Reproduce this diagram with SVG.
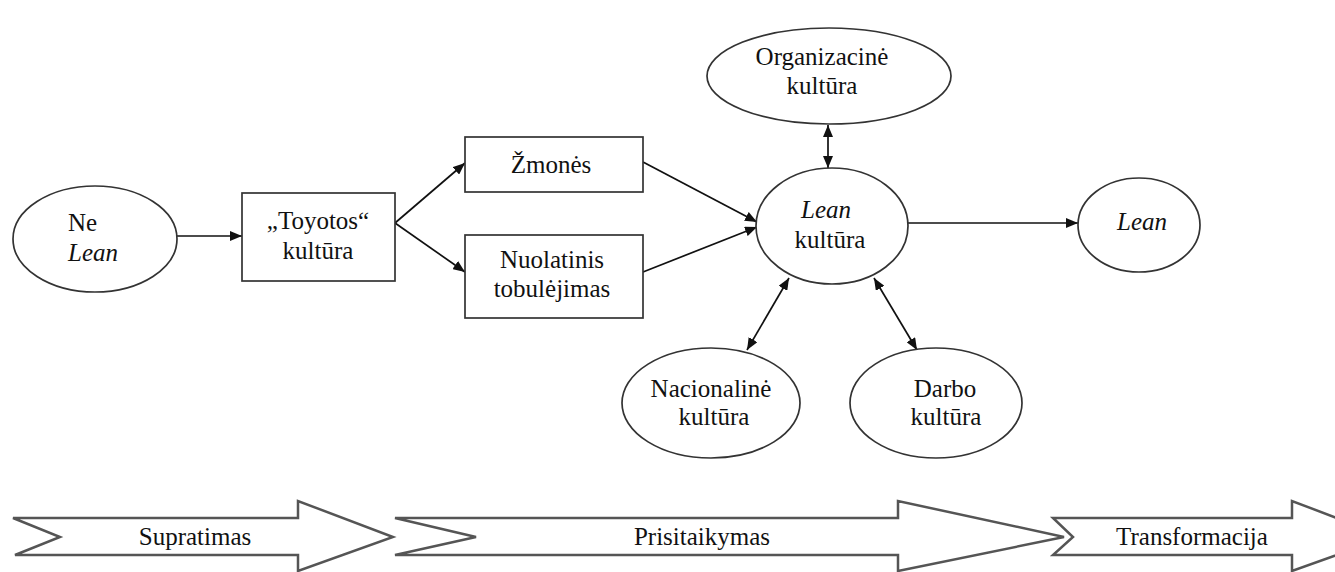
<svg xmlns="http://www.w3.org/2000/svg" width="1335" height="572" viewBox="0 0 1335 572" font-family="'Liberation Serif', 'DejaVu Serif', 'Times New Roman', serif">
  <style>
    .shape { fill: #fff; stroke: #333; stroke-width: 1.7; }
    .band { fill: #fff; stroke: #555; stroke-width: 2.5; stroke-linejoin: miter; }
    .link { fill: none; stroke: #111; stroke-width: 1.7; }
    text { font-family: 'Liberation Serif', 'DejaVu Serif', 'Times New Roman', serif; font-size: 25px; fill: #111; }
    .c { text-anchor: middle; }
    .i { font-style: italic; }
  </style>
  <defs>
    <marker id="head" viewBox="0 0 12 10" refX="12" refY="5" markerWidth="12" markerHeight="10" markerUnits="userSpaceOnUse" orient="auto-start-reverse">
      <path d="M0,0 L12,5 L0,10 Z" fill="#111"/>
    </marker>
  </defs>

  <rect width="1335" height="572" fill="#fff"/>

  <!-- connectors -->
  <g id="connectors">
    <line class="link" x1="177" y1="236" x2="242" y2="236" marker-end="url(#head)"/>
    <line class="link" x1="395" y1="223" x2="465" y2="163" marker-end="url(#head)"/>
    <line class="link" x1="395" y1="223" x2="465" y2="272" marker-end="url(#head)"/>
    <line class="link" x1="643" y1="162" x2="757" y2="222" marker-end="url(#head)"/>
    <line class="link" x1="643" y1="272" x2="757" y2="227" marker-end="url(#head)"/>
    <line class="link" x1="908" y1="223" x2="1078" y2="223" marker-end="url(#head)"/>
    <line class="link" x1="828" y1="125" x2="828" y2="168" marker-start="url(#head)" marker-end="url(#head)"/>
    <line class="link" x1="789" y1="278" x2="747" y2="350" marker-start="url(#head)" marker-end="url(#head)"/>
    <line class="link" x1="874" y1="278" x2="917" y2="350" marker-start="url(#head)" marker-end="url(#head)"/>
  </g>

  <!-- nodes -->
  <g id="ne-lean">
    <ellipse class="shape" cx="95" cy="239" rx="82" ry="53"/>
    <text x="68" y="231">Ne</text>
    <text x="68" y="261" class="i">Lean</text>
  </g>

  <g id="toyotos-kultura">
    <rect class="shape" x="242" y="193" width="153" height="88"/>
    <text x="318" y="229" class="c">„Toyotos“</text>
    <text x="318" y="259" class="c">kultūra</text>
  </g>

  <g id="zmones">
    <rect class="shape" x="465" y="137" width="178" height="55"/>
    <text x="551" y="173" class="c">Žmonės</text>
  </g>

  <g id="nuolatinis-tobulejimas">
    <rect class="shape" x="465" y="235" width="178" height="83"/>
    <text x="552" y="268" class="c">Nuolatinis</text>
    <text x="552" y="297" class="c">tobulėjimas</text>
  </g>

  <g id="lean-kultura">
    <ellipse class="shape" cx="832" cy="226" rx="76" ry="58"/>
    <text x="826" y="218" class="c i">Lean</text>
    <text x="830" y="248" class="c">kultūra</text>
  </g>

  <g id="organizacine-kultura">
    <ellipse class="shape" cx="829" cy="76" rx="122" ry="48"/>
    <text x="822" y="65" class="c">Organizacinė</text>
    <text x="822" y="94" class="c">kultūra</text>
  </g>

  <g id="nacionaline-kultura">
    <ellipse class="shape" cx="711" cy="403" rx="89" ry="55"/>
    <text x="711" y="397" class="c">Nacionalinė</text>
    <text x="714" y="425" class="c">kultūra</text>
  </g>

  <g id="darbo-kultura">
    <ellipse class="shape" cx="936" cy="403" rx="86" ry="55"/>
    <text x="945" y="397" class="c">Darbo</text>
    <text x="946" y="425" class="c">kultūra</text>
  </g>

  <g id="lean">
    <ellipse class="shape" cx="1139" cy="225" rx="61" ry="47"/>
    <text x="1142" y="230" class="c i">Lean</text>
  </g>

  <!-- phase bands -->
  <g id="supratimas">
    <path class="band" d="M13,518 L298,518 L298,501 L393,537 L298,571 L298,555 L15,555 L60,537 Z"/>
    <text x="195" y="545" class="c">Supratimas</text>
  </g>

  <g id="prisitaikymas">
    <path class="band" d="M395,518 L898,518 L898,501 L1064,537 L898,571 L898,555 L395,555 L476,537 Z"/>
    <text x="702" y="545" class="c">Prisitaikymas</text>
  </g>

  <g id="transformacija">
    <path class="band" d="M1053,518 L1292,518 L1292,501 L1387,537 L1292,571 L1292,555 L1053,555 L1073,537 Z"/>
    <text x="1192" y="545" class="c">Transformacija</text>
  </g>
</svg>
